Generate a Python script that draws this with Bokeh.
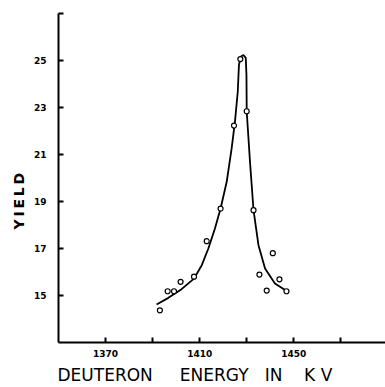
from bokeh.plotting import figure
from bokeh.models import FixedTicker, Range1d, Title
from bokeh.embed import file_html
from bokeh.resources import INLINE

# measured points (deuteron energy in kV, yield)
energy_kv = [1393.1, 1396.4, 1399.1, 1401.9, 1407.6, 1413.0, 1418.9, 1424.6,
             1427.3, 1430.0, 1432.9, 1435.4, 1438.5, 1441.1, 1443.9, 1446.9]
yield_pts = [14.37, 15.18, 15.18, 15.58, 15.80, 17.31, 18.70, 22.23,
             25.06, 22.84, 18.63, 15.89, 15.21, 16.80, 15.69, 15.18]

# hand-drawn curve
curve_kv = [1391.7, 1396.7, 1402.3, 1407.6, 1410.9, 1413.7, 1416.5, 1418.9,
            1421.5, 1423.6, 1425.0, 1426.2, 1426.7, 1427.4, 1428.6, 1429.6,
            1429.9, 1430.0, 1431.4, 1432.9, 1435.0, 1437.8, 1442.0, 1446.3]
curve_yield = [14.62, 14.90, 15.27, 15.72, 16.29, 17.00, 17.85, 18.70,
               19.84, 21.26, 22.39, 23.67, 24.80, 25.16, 25.23, 25.11,
               24.37, 22.84, 20.69, 18.63, 17.14, 16.15, 15.51, 15.23]

x_ticks = [1370, 1390, 1410, 1430, 1450, 1470]
x_tick_labels = {1370: "1370", 1390: "", 1410: "1410", 1430: "", 1450: "1450", 1470: ""}
y_ticks = [15, 17, 19, 21, 23, 25, 27]
y_tick_labels = {15: "15", 17: "17", 19: "19", 21: "21", 23: "23", 25: "25", 27: ""}

NB = "\u00a0"
TS = "\u2009"
x_title = "DEUTERON" + NB * 5 + "ENERGY" + NB * 3 + "IN" + NB * 4 + "K" + NB + "V"
y_title = TS.join("YIELD")

p = figure(width=385, height=387, output_backend="svg", toolbar_location=None,
           x_range=Range1d(1350, 1489), y_range=Range1d(13, 27),
           min_border_left=58, min_border_right=0, min_border_top=13,
           min_border_bottom=44)
p.outline_line_color = None
p.xgrid.visible = False
p.ygrid.visible = False
p.background_fill_color = "white"
p.border_fill_color = "white"

for ax, ticks, labels, standoff in ((p.xaxis[0], x_ticks, x_tick_labels, 7),
                                    (p.yaxis[0], y_ticks, y_tick_labels, 12)):
    ax.ticker = FixedTicker(ticks=ticks)
    ax.major_label_overrides = labels
    ax.minor_tick_line_color = None
    ax.major_tick_in = 5
    ax.major_tick_out = 0
    ax.major_tick_line_width = 2
    ax.major_tick_line_color = "black"
    ax.axis_line_width = 2
    ax.axis_line_color = "black"
    ax.major_label_text_font = "DejaVu Sans"
    ax.major_label_text_font_style = "bold"
    ax.major_label_text_font_size = "9px"
    ax.major_label_text_color = "black"
    ax.major_label_standoff = standoff

p.line(curve_kv, curve_yield, line_color="black", line_width=1.8, line_join="round")
p.scatter(energy_kv, yield_pts, marker="circle", size=5, fill_color="white",
          line_color="black", line_width=1.2)

p.add_layout(Title(text=x_title, align="left", offset=-1, text_font="DejaVu Sans",
                   text_font_style="normal", text_font_size="17px",
                   text_color="black", standoff=6), "below")
p.add_layout(Title(text=y_title, align="left", offset=113, text_font="DejaVu Sans",
                   text_font_style="bold", text_font_size="14px",
                   text_color="black", standoff=7), "left")

open("out.html", "w").write(file_html(p, INLINE))
